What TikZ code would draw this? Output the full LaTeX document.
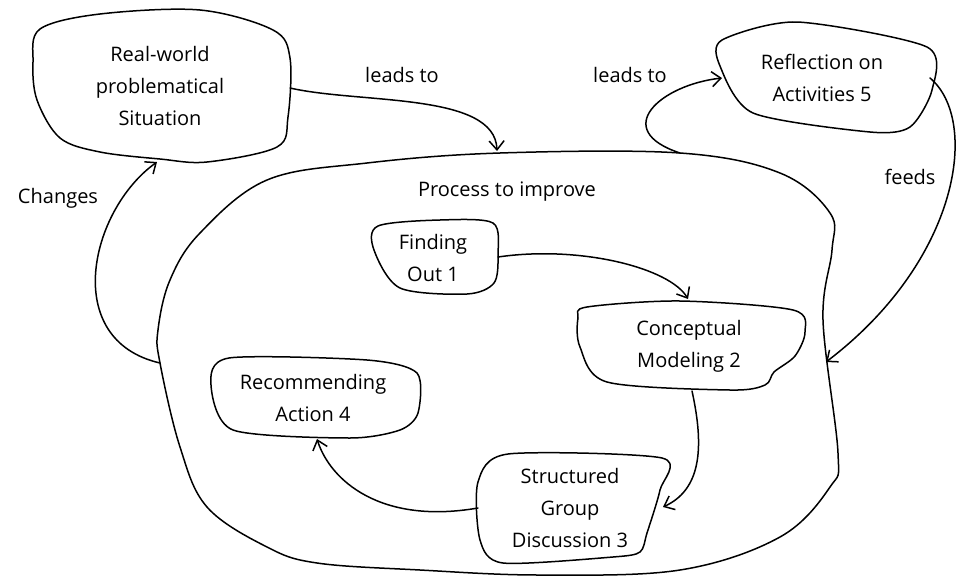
\documentclass[tikz,border=0pt]{standalone}
\usepackage{fontspec}
\setmainfont{Open Sans}
\usetikzlibrary{arrows.meta}
\begin{document}
\begin{tikzpicture}[x=1pt,y=-1pt,
  ln/.style={line width=1.5pt, line join=round, line cap=round},
  blob/.style={ln, draw=black},
  arr/.style={ln, -{Straight Barb[length=9pt,width=15pt,line width=1.5pt]}},
  txt/.style={align=center, font=\fontsize{20}{32}\selectfont, inner sep=0pt},
  lbl/.style={font=\fontsize{20}{24}\selectfont, inner sep=0pt}]
\useasboundingbox (0,0) rectangle (956,576);
% blobs
\draw[blob] plot[smooth cycle, tension=0.55] coordinates {(40,29) (100,14) (200,10) (273,30) (290,58) (288,117) (277,147) (207,162) (160,159) (100,152) (60,138) (37,100) (33,62)};
\draw[blob] plot[smooth cycle, tension=0.6] coordinates {(160,363) (158,330) (170,280) (200,233) (267,180) (367,163) (500,153) (680,153) (780,173) (830,213) (832,250) (823,320) (838,453) (830,487) (780,537) (680,570) (540,575) (420,570) (317,563) (267,547) (207,507) (180,447)};
\draw[blob] plot[smooth cycle, tension=0.5] coordinates {(378,226) (440,220) (493,223) (498,255) (494,283) (467,294) (400,288) (374,250)};
\draw[blob] plot[smooth cycle, tension=0.5] coordinates {(587,307) (680,301) (793,310) (805,332) (795,356) (774,372) (765,385) (730,390) (607,382) (580,347) (578,318)};
\draw[blob] plot[smooth cycle, tension=0.45] coordinates {(508,454) (662,458) (660,490) (647,533) (640,552) (613,557) (503,563) (480,540) (478,482)};
\draw[blob] plot[smooth cycle, tension=0.45] coordinates {(229,358) (367,360) (417,373) (418,413) (400,430) (350,438) (233,430) (211,385)};
\draw[blob] plot[smooth cycle, tension=0.45] coordinates {(722,40) (797,22) (927,47) (932,90) (910,127) (870,132) (753,113) (720,66)};
% text nodes
\node[txt] (real) at (160,86) {Real-world\\problematical\\Situation};
\node[txt] (proc) at (507,192) {Process to improve};
\node[txt] (find) at (433,258) {Finding\\Out 1};
\node[txt] (conc) at (689,346) {Conceptual\\Modeling 2};
\node[txt] (stru) at (570,508) {Structured\\Group\\Discussion 3};
\node[txt] (reco) at (313,398) {Recommending\\Action 4};
\node[txt] (refl) at (822,78) {Reflection on\\Activities 5};
% connector end points on blob outlines
\coordinate (realR) at (290,88);
\coordinate (realB) at (157,162);
\coordinate (procT) at (497,151);
\coordinate (procTR) at (680,153);
\coordinate (procL) at (160,363);
\coordinate (procR) at (826,362);
\coordinate (findR) at (498,257);
\coordinate (concT) at (688,299);
\coordinate (concB) at (692,391);
\coordinate (struR) at (663,507);
\coordinate (struL) at (478,508);
\coordinate (recoB) at (317,439);
\coordinate (reflL) at (722,78);
\coordinate (reflR) at (930,78);
% connectors
\draw[arr] (realR) .. controls (360,104) and (495,92) .. (procT);
\draw[arr] (procL) .. controls (60,340) and (90,210) .. (realB);
\draw[arr] (findR) .. controls (580,245) and (670,268) .. (concT);
\draw[arr] (concB) .. controls (705,450) and (700,490) .. (struR);
\draw[arr] (struL) .. controls (380,525) and (330,480) .. (recoB);
\draw[arr] (procTR) .. controls (610,130) and (660,85) .. (reflL);
\draw[arr] (reflR) .. controls (980,120) and (960,260) .. (procR);
% labels
\node[lbl] (l1) at (402,75) {leads to};
\node[lbl] (l2) at (630,75) {leads to};
\node[lbl] (l3) at (58,198) {Changes};
\node[lbl] (l4) at (910,177) {feeds};
\end{tikzpicture}
\end{document}
